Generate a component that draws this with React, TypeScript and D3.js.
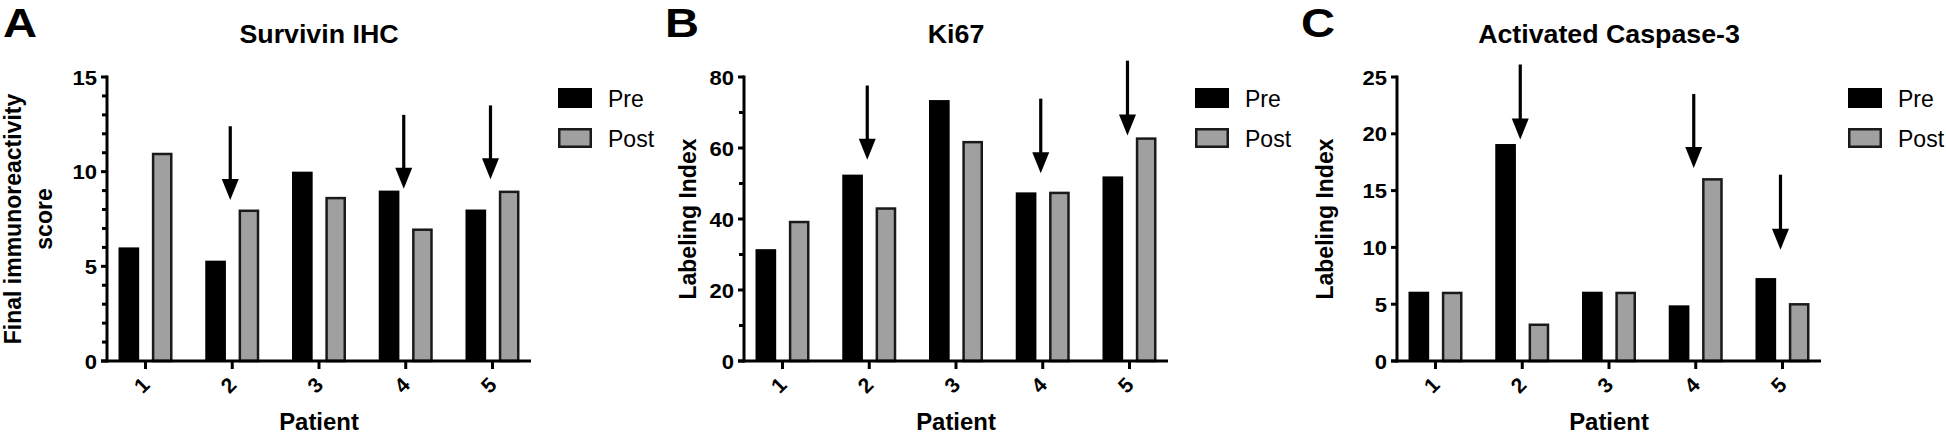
import * as d3 from "d3";

// patients on the x axis and the two series
const patients = ["1", "2", "3", "4", "5"];
const series = ["Pre", "Post"];

// Survivin IHC (final immunoreactivity score)
const survivinPre = [6, 5.3, 10, 9, 8];
const survivinPost = [11, 8, 8.67, 7, 9];
const survivinArrows = [
  { patient: "2", from: 12.4, to: 8.5 },
  { patient: "4", from: 13.0, to: 9.1 },
  { patient: "5", from: 13.5, to: 9.6 },
];

// Ki67 labeling index
const ki67Pre = [31.5, 52.5, 73.5, 47.5, 52];
const ki67Post = [39.5, 43.3, 62, 47.7, 63];
const ki67Arrows = [
  { patient: "2", from: 77.6, to: 56.7 },
  { patient: "4", from: 73.9, to: 52.9 },
  { patient: "5", from: 84.6, to: 63.5 },
];

// Activated caspase-3 labeling index
const caspasePre = [6.1, 19.1, 6.1, 4.9, 7.3];
const caspasePost = [6.1, 3.3, 6.1, 16.1, 5.1];
const caspaseArrows = [
  { patient: "2", from: 26.1, to: 19.5 },
  { patient: "4", from: 23.5, to: 17.0 },
  { patient: "5", from: 16.4, to: 9.8 },
];

const panels = [
  { letter: "A", title: "Survivin IHC", yLabel: ["Final immunoreactivity", "score"], pre: survivinPre, post: survivinPost, arrows: survivinArrows, yMax: 15, major: 5, minor: 1 },
  { letter: "B", title: "Ki67", yLabel: ["Labeling Index"], pre: ki67Pre, post: ki67Post, arrows: ki67Arrows, yMax: 80, major: 20, minor: 10 },
  { letter: "C", title: "Activated Caspase-3", yLabel: ["Labeling Index"], pre: caspasePre, post: caspasePost, arrows: caspaseArrows, yMax: 25, major: 5, minor: 0 },
];

// layout per panel (pixels)
const layout = [
  { axisX: 107, letterX: 3, yLabelX: [13, 44] },
  { axisX: 744, letterX: 665, yLabelX: [688] },
  { axisX: 1397, letterX: 1301, yLabelX: [1325] },
];

const W = 1946;
const H = 434;
const plotW = 424;
const top = 77;
const bottom = 361;
const font = "'Liberation Sans', Arial, Helvetica, sans-serif";
const gray = "#a0a0a0";

function Panel({ p, l }) {
  const x0 = l.axisX;
  const x1 = x0 + plotW;
  const x = d3.scalePoint().domain(patients).range([x0, x1]).padding(0.444);
  const xs = d3.scaleBand().domain(series).range([-27, 27]).paddingInner(0.38);
  const y = d3.scaleLinear().domain([0, p.yMax]).range([bottom, top]);
  const majors = d3.range(0, p.yMax + 0.001, p.major);
  const minors = p.minor ? d3.range(0, p.yMax, p.minor).filter((v) => v % p.major !== 0) : [];
  const bw = xs.bandwidth();
  const sw = 2.5;

  return (
    <g>
      <text transform={`translate(${l.letterX},37) scale(1.15,1)`} fontSize={41} fontWeight="bold" fontFamily={font}>{p.letter}</text>
      <text transform={`translate(${(x0 + x1) / 2},43) scale(1.05,1)`} textAnchor="middle" fontSize={25.5} fontWeight="bold" fontFamily={font}>{p.title}</text>

      {/* bars */}
      {patients.map((pt, i) => (
        <g key={pt}>
          <rect x={x(pt) + xs("Pre")} y={y(p.pre[i])} width={bw} height={bottom - y(p.pre[i])} fill="#000" />
          <rect
            x={x(pt) + xs("Post") + sw / 2}
            y={y(p.post[i]) + sw / 2}
            width={bw - sw}
            height={bottom - y(p.post[i]) - sw / 2}
            fill={gray}
            stroke="#1a1a1a"
            strokeWidth={sw}
          />
        </g>
      ))}

      {/* arrows */}
      {p.arrows.map((a) => {
        const ax = x(a.patient) - 2;
        const tip = y(a.to);
        const head = 21;
        return (
          <g key={a.patient}>
            <line x1={ax} x2={ax} y1={y(a.from)} y2={tip - head + 2} stroke="#000" strokeWidth={3.2} />
            <path d={`M${ax - 8.5},${tip - head} L${ax + 8.5},${tip - head} L${ax},${tip} Z`} fill="#000" />
          </g>
        );
      })}

      {/* y axis */}
      <line x1={x0} x2={x0} y1={top - 1.5} y2={bottom + 1.5} stroke="#000" strokeWidth={3} />
      {majors.map((v) => (
        <g key={"M" + v}>
          <line x1={x0 - 6} x2={x0} y1={y(v)} y2={y(v)} stroke="#000" strokeWidth={3} />
          <text transform={`translate(${x0 - 10},${y(v)}) scale(1.05,1)`} dy="0.36em" textAnchor="end" fontSize={21} fontWeight="bold" fontFamily={font}>{v}</text>
        </g>
      ))}
      {minors.map((v) => (
        <line key={"m" + v} x1={x0 - 5} x2={x0} y1={y(v)} y2={y(v)} stroke="#000" strokeWidth={3} />
      ))}

      {/* x axis */}
      <line x1={x0 - 6} x2={x1} y1={bottom} y2={bottom} stroke="#000" strokeWidth={3} />
      {patients.map((pt) => (
        <g key={"t" + pt}>
          <line x1={x(pt)} x2={x(pt)} y1={bottom} y2={bottom + 8} stroke="#000" strokeWidth={3} />
          <text
            transform={`translate(${x(pt) - 4},${bottom + 24}) rotate(-45)`}
            textAnchor="middle"
            dy="0.36em"
            fontSize={21}
            fontWeight="bold"
            fontFamily={font}
          >{pt}</text>
        </g>
      ))}
      <text transform={`translate(${(x0 + x1) / 2},430) scale(1.04,1)`} textAnchor="middle" fontSize={23} fontWeight="bold" fontFamily={font}>Patient</text>

      {/* y label */}
      {p.yLabel.map((t, i) => (
        <text
          key={t}
          transform={`translate(${l.yLabelX[i]},${(top + bottom) / 2}) rotate(-90)`}
          textAnchor="middle"
          dy="0.36em"
          fontSize={23}
          fontWeight="bold"
          fontFamily={font}
        >{t}</text>
      ))}

      {/* legend */}
      {series.map((s, i) => (
        <g key={s} transform={`translate(${x1 + 27},${88 + i * 40})`}>
          {s === "Pre" ? (
            <rect x={0} y={0} width={34} height={20} fill="#000" />
          ) : (
            <rect x={1.25} y={1.25} width={31.5} height={17.5} fill={gray} stroke="#1a1a1a" strokeWidth={2.5} />
          )}
          <text x={50} y={19} fontSize={23} fontFamily={font}>{s}</text>
        </g>
      ))}
    </g>
  );
}

export default function App() {
  return (
    <svg width={W} height={H} style={{ position: "absolute", left: 0, top: 0, background: "#fff" }}>
      <rect width={W} height={H} fill="#fff" />
      {panels.map((p, i) => (
        <Panel key={p.letter} p={p} l={layout[i]} />
      ))}
    </svg>
  );
}
